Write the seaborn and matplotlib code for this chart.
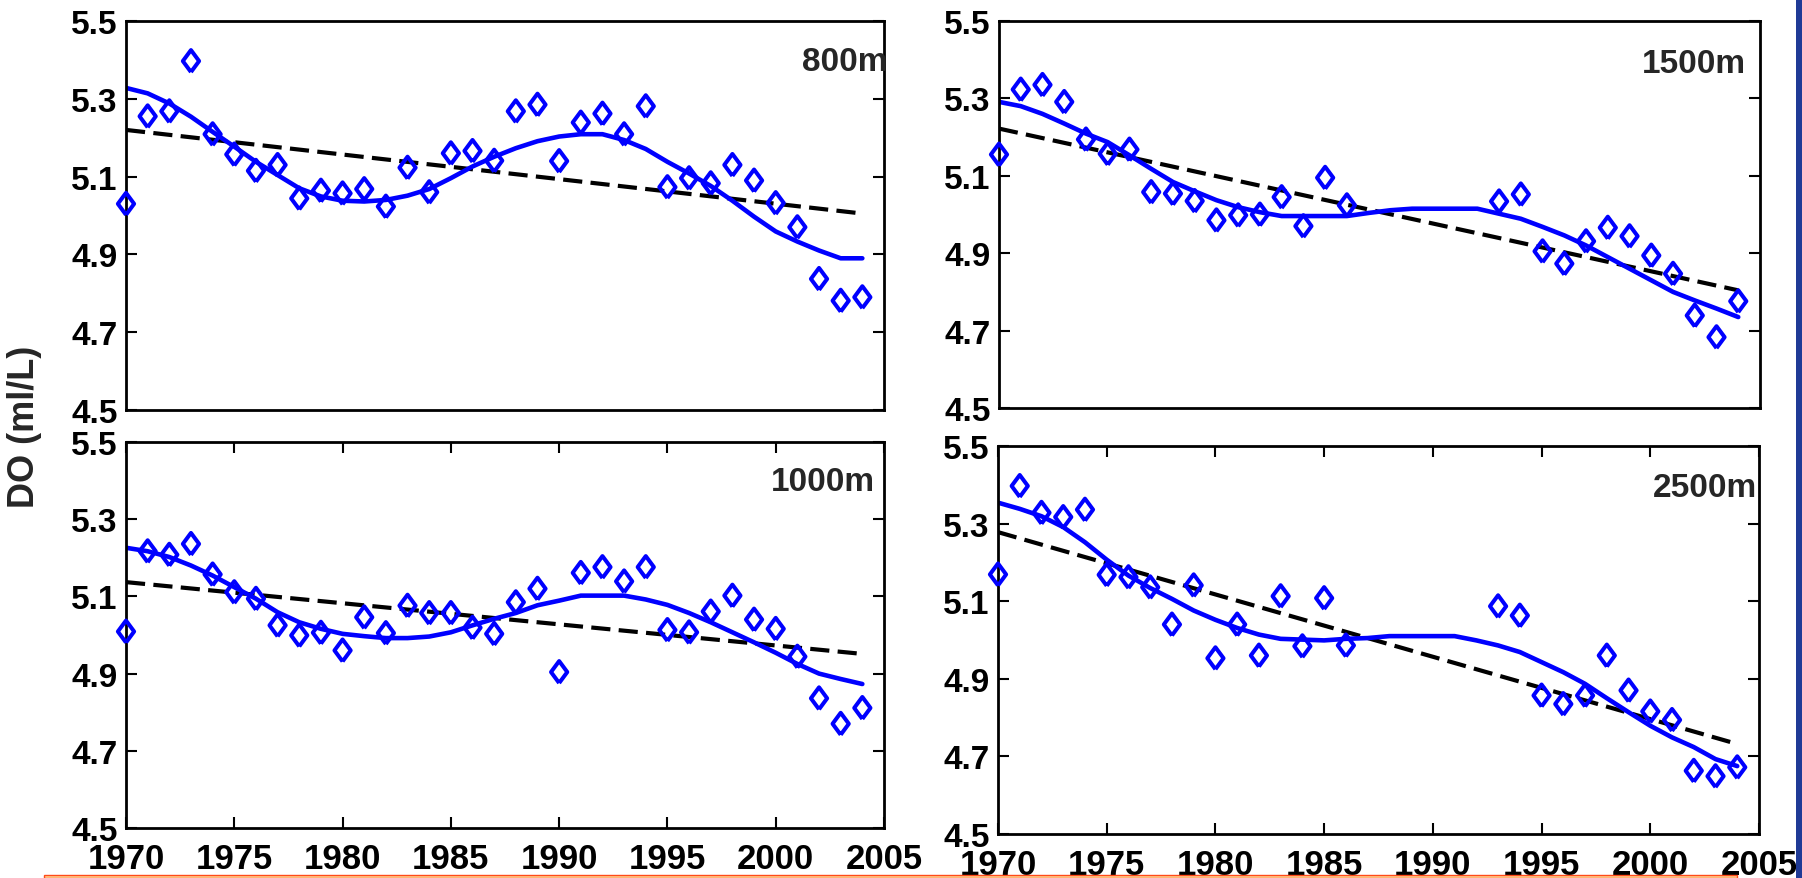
import numpy as np
import matplotlib
matplotlib.use("Agg")
import matplotlib.pyplot as plt
from matplotlib.patches import Rectangle
import seaborn as sns

nan = np.nan
years = list(range(1970, 2005))
year_ticks = [1970, 1975, 1980, 1985, 1990, 1995, 2000, 2005]
do_ticks = [4.5, 4.7, 4.9, 5.1, 5.3, 5.5]
trend_years = [1970, 2004]

# Annual mean dissolved oxygen (ml/L) at each depth
do_800 = [5.03, 5.255, 5.268, 5.397, 5.209, 5.157, 5.115, 5.13, 5.044, 5.064,
          5.057, 5.068, 5.023, 5.123, 5.06, 5.16, 5.166, 5.141, 5.268, 5.285,
          5.14, 5.239, 5.262, 5.209, 5.281, 5.073, 5.096, 5.083, 5.13, 5.09,
          5.032, 4.97, 4.837, 4.781, 4.79]
do_1000 = [5.009, 5.217, 5.208, 5.236, 5.157, 5.111, 5.094, 5.025, 4.999, 5.006,
           4.96, 5.046, 5.005, 5.076, 5.057, 5.057, 5.019, 5.003, 5.085, 5.12,
           4.904, 5.161, 5.176, 5.139, 5.176, 5.013, 5.007, 5.061, 5.102, 5.04,
           5.016, 4.944, 4.836, 4.77, 4.811]
do_1500 = [5.155, 5.323, 5.335, 5.291, 5.194, 5.157, 5.168, 5.058, 5.054, 5.035,
           4.985, 4.998, 5.0, 5.045, 4.970, 5.095, 5.024, nan, nan, nan,
           nan, nan, nan, 5.034, 5.052, 4.905, 4.873, 4.931, 4.966, 4.944,
           4.894, 4.847, 4.739, 4.683, 4.776]
do_2500 = [5.169, 5.397, 5.328, 5.317, 5.336, 5.168, 5.162, 5.136, 5.04, 5.141,
           4.953, 5.04, 4.96, 5.113, 4.984, 5.108, 4.986, nan, nan, nan,
           nan, nan, nan, 5.087, 5.063, 4.857, 4.835, 4.857, 4.96, 4.87,
           4.816, 4.794, 4.663, 4.649, 4.672]

# Smoothed curves
fit_800 = [5.328, 5.314, 5.288, 5.254, 5.215, 5.177, 5.138, 5.104, 5.07, 5.049,
           5.038, 5.036, 5.04, 5.051, 5.068, 5.096, 5.126, 5.151, 5.173, 5.191,
           5.203, 5.209, 5.209, 5.194, 5.171, 5.138, 5.108, 5.076, 5.038, 4.997,
           4.959, 4.933, 4.91, 4.89, 4.89]
fit_1000 = [5.226, 5.217, 5.202, 5.18, 5.154, 5.124, 5.094, 5.059, 5.033, 5.016,
            5.003, 4.997, 4.992, 4.992, 4.996, 5.007, 5.025, 5.042, 5.057, 5.077,
            5.089, 5.102, 5.102, 5.102, 5.092, 5.078, 5.057, 5.033, 5.007, 4.981,
            4.954, 4.925, 4.9, 4.886, 4.873]
fit_1500 = [5.291, 5.28, 5.26, 5.235, 5.209, 5.187, 5.153, 5.118, 5.084, 5.06,
            5.037, 5.019, 5.006, 4.996, 4.996, 4.996, 4.996, 5.004, 5.011, 5.015,
            5.015, 5.015, 5.015, 5.002, 4.989, 4.968, 4.946, 4.92, 4.89, 4.86,
            4.83, 4.80, 4.778, 4.757, 4.735]
fit_2500 = [5.354, 5.338, 5.319, 5.291, 5.252, 5.207, 5.166, 5.134, 5.106, 5.076,
            5.052, 5.031, 5.014, 5.003, 5.001, 4.999, 5.003, 5.005, 5.01, 5.01,
            5.01, 5.01, 4.999, 4.986, 4.969, 4.943, 4.917, 4.887, 4.85, 4.814,
            4.779, 4.749, 4.724, 4.693, 4.675]

# Linear trends (values at 1970 and 2004)
trend_800 = [5.22, 5.005]
trend_1000 = [5.137, 4.951]
trend_1500 = [5.222, 4.804]
trend_2500 = [5.278, 4.732]

depth_labels = ["800m", "1500m", "1000m", "2500m"]

sns.set_theme(style="white")
plt.rcParams["font.family"] = ["Liberation Sans", "DejaVu Sans"]
plt.rcParams["font.weight"] = "bold"

W, H = 1802, 879
fig = plt.figure(figsize=(W / 100, H / 100), dpi=100)
fig.patch.set_facecolor("white")

# open diamond, a little narrower than tall
DIAMOND = [(0, -1), (0.74, 0), (0, 1), (-0.74, 0), (0, -1)]


def frac(left, right, top, bottom):
    return [left / W, 1 - bottom / H, (right - left) / W, (bottom - top) / H]


panels = [
    (frac(126, 884, 22, 411), do_800, fit_800, trend_800, depth_labels[0], False, (1.004, 0.896)),
    (frac(999, 1760, 22, 409), do_1500, fit_1500, trend_1500, depth_labels[1], False, (0.982, 0.890)),
    (frac(126, 884, 443, 829), do_1000, fit_1000, trend_1000, depth_labels[2], True, (0.988, 0.898)),
    (frac(998, 1759, 447, 835), do_2500, fit_2500, trend_2500, depth_labels[3], True, (0.997, 0.893)),
]

BLUE = "#0000ff"
for rect, obs, fit, trend, label, bottom_row, lab_pos in panels:
    ax = fig.add_axes(rect)
    sns.lineplot(x=trend_years, y=trend, color="black", lw=3.0,
                 linestyle=(0, (4.6, 2.0)), ax=ax, zorder=2)
    sns.lineplot(x=years, y=fit, color=BLUE, lw=3.3, ax=ax, zorder=2)
    sns.scatterplot(x=years, y=obs, marker=DIAMOND, s=250, facecolors="none",
                    edgecolor=BLUE, linewidth=2.9, ax=ax, zorder=3, clip_on=False)

    ax.set_xlim(1970, 2005)
    ax.set_ylim(4.5, 5.5)
    ax.set_yticks(do_ticks)
    ax.set_yticklabels([f"{v:.1f}" for v in do_ticks], fontsize=24, fontweight="bold")
    ax.set_xticks(year_ticks)
    ax.tick_params(axis="y", direction="in", left=True, right=True,
                   length=8, width=1.5, pad=6, colors="black")
    if bottom_row:
        ax.set_xticklabels([str(y) for y in year_ticks], fontsize=25, fontweight="bold")
        ax.tick_params(axis="x", direction="in", bottom=True, top=True,
                       length=8, width=1.5, pad=10, colors="black")
    else:
        ax.tick_params(axis="x", length=0, labelbottom=False)
    ax.set_xlabel("")
    ax.set_ylabel("")
    for sp in ax.spines.values():
        sp.set_visible(True)
        sp.set_color("black")
        sp.set_linewidth(2.0)
    ax.text(lab_pos[0], lab_pos[1], label, transform=ax.transAxes,
            ha="right", va="center", fontsize=24, fontweight="bold")

fig.text(24 / W, 1 - 427 / H, "DO (ml/L)", rotation=90, ha="center",
         va="center", fontsize=26, fontweight="bold")

# Slide decorations: right edge band and bottom rule
fig.patches.append(Rectangle((1796 / W, 0), 6 / W, 1, transform=fig.transFigure,
                             facecolor="#1f3a96", edgecolor="none"))
fig.patches.append(Rectangle((44 / W, 0.5 / H), (1737 - 44) / W, 3 / H,
                             transform=fig.transFigure, facecolor="#ffd08a",
                             edgecolor="#ff4a1a", linewidth=1))

fig.savefig("out.png", dpi=100, facecolor="white")
